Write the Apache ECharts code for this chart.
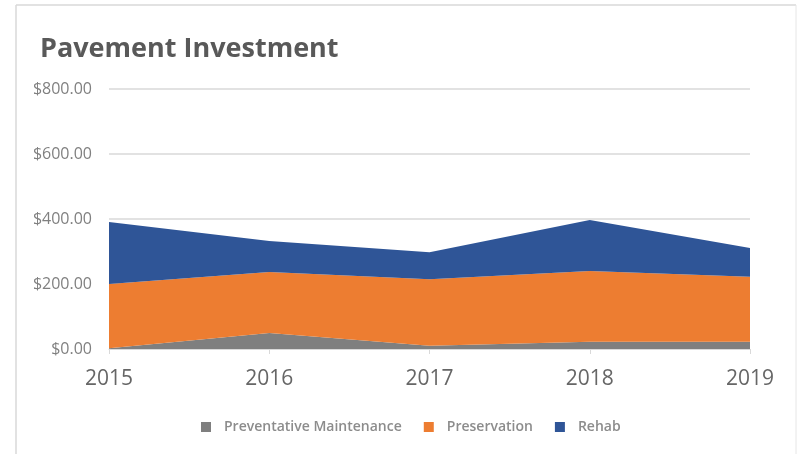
<!DOCTYPE html>
<html>
<head>
<meta charset="utf-8">
<script src="https://cdn.jsdelivr.net/npm/echarts@6/dist/echarts.min.js"></script>
<style>
  html, body { margin: 0; padding: 0; background: #fff; }
  #chart { width: 797px; height: 454px; }
</style>
</head>
<body>
<div id="chart"></div>
<script>
const years = ['2015', '2016', '2017', '2018', '2019'];
const preventativeMaintenance = [2, 49, 10, 22, 22];
const preservation = [198, 188, 205, 218, 200];
const rehab = [191, 95, 83, 157, 89];
const yTicks = [0, 200, 400, 600, 800];

const chart = echarts.init(document.getElementById('chart'), null, { renderer: 'canvas' });

function areaSeries(name, data, color) {
  return {
    name: name,
    type: 'line',
    stack: 'total',
    data: data,
    symbol: 'none',
    lineStyle: { width: 0 },
    areaStyle: { color: color, opacity: 1 },
    itemStyle: { color: color }
  };
}

chart.setOption({
  animation: false,
  backgroundColor: '#ffffff',
  title: {
    text: 'Pavement Investment',
    left: 35,
    top: 31,
    textStyle: {
      fontFamily: 'Open Sans',
      fontWeight: 'bold',
      fontSize: 27,
      color: '#595959'
    }
  },
  graphic: [
    { type: 'line', shape: { x1: 16, y1: 5, x2: 796, y2: 5 }, style: { stroke: '#d9d9d9', lineWidth: 1.5 } },
    { type: 'line', shape: { x1: 16, y1: 5, x2: 16, y2: 454 }, style: { stroke: '#d9d9d9', lineWidth: 1.5 } },
    { type: 'line', shape: { x1: 796, y1: 5, x2: 796, y2: 454 }, style: { stroke: '#e6e6e6', lineWidth: 1 } }
  ],
  grid: { left: 109, right: 47, top: 89, bottom: 105 },
  legend: {
    bottom: 15,
    left: 196,
    itemWidth: 10,
    itemHeight: 10,
    itemGap: 22,
    icon: 'rect',
    textStyle: { fontFamily: 'Open Sans', fontWeight: 600, fontSize: 14, color: '#8c8c8c', padding: [0, 0, 0, 8] },
    data: ['Preventative Maintenance', 'Preservation', 'Rehab']
  },
  xAxis: {
    type: 'category',
    boundaryGap: false,
    data: years,
    axisLine: { lineStyle: { color: '#d9d9d9', width: 1 } },
    axisTick: { show: true, alignWithLabel: true, length: 5, lineStyle: { color: '#d9d9d9' } },
    axisLabel: { fontFamily: 'Open Sans', fontSize: 21, color: '#666666', margin: 20 },
    splitLine: { show: false }
  },
  yAxis: {
    type: 'value',
    min: yTicks[0],
    max: yTicks[yTicks.length - 1],
    interval: 200,
    axisLine: { show: false },
    axisTick: { show: false },
    axisLabel: {
      fontFamily: 'Open Sans',
      fontSize: 16,
      color: '#808080',
      margin: 17,
      formatter: v => '$' + v.toFixed(2)
    },
    splitLine: { lineStyle: { color: '#d9d9d9', width: 1.5 } }
  },
  series: [
    areaSeries('Preventative Maintenance', preventativeMaintenance, '#7f7f7f'),
    areaSeries('Preservation', preservation, '#ed7d31'),
    areaSeries('Rehab', rehab, '#2f5597')
  ]
});
</script>
</body>
</html>
